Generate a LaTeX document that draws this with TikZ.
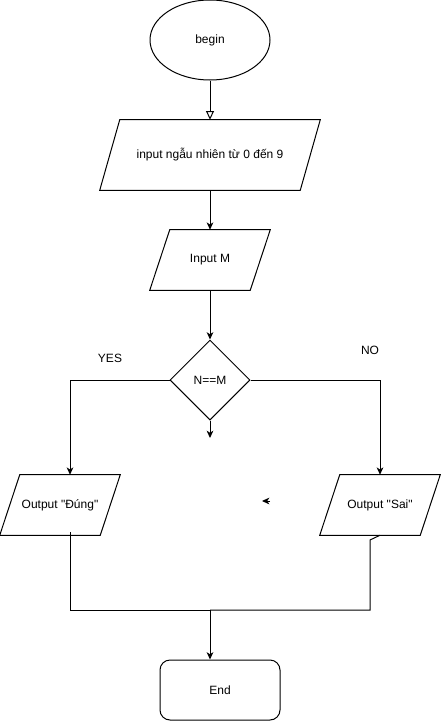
\documentclass[tikz,border=0pt]{standalone}
\usepackage{fontspec}
% plain family: no TeX ligature mapping, so " stays a straight quote
\newfontfamily\diafont{Liberation Sans}
\usetikzlibrary{shapes.geometric,arrows.meta,calc}

% parallelogram outline on a node's bounding box: top edge shifted right by #2
\newcommand\parashape[2]{%
  \draw[line] ([xshift=#2]#1.north west) -- (#1.north east)
    -- ([xshift=-#2]#1.south east) -- (#1.south west) -- cycle;}

\begin{document}
\begin{tikzpicture}[x=0.75pt,y=-0.75pt,
  font=\diafont\fontsize{9pt}{11pt}\selectfont,
  line/.style={draw=black,line width=0.75pt},
  arrow/.style={line,-{Stealth[length=5.5pt,width=5pt,inset=1.6pt]}},
  openarrow/.style={line,-{Triangle[open,length=6.5pt,width=6pt]}},
  term/.style={ellipse,draw=black,line width=0.75pt,inner sep=0pt,
    minimum width=90pt,minimum height=60pt},
  iobox/.style={inner sep=0pt,minimum height=#1},
  decision/.style={diamond,draw=black,line width=0.75pt,inner sep=0pt,
    minimum width=60pt,minimum height=60pt},
  endbox/.style={rectangle,rounded corners=7.5pt,draw=black,line width=0.75pt,
    inner sep=0pt,minimum width=90pt,minimum height=45pt},
  lbl/.style={inner sep=0pt}]

\useasboundingbox (0,0) rectangle (441,721);

% nodes
\node[term] (begin) at (210,40) {begin};
\node[iobox=52.5pt,minimum width=165pt] (rand) at (210,155) {input ngẫu nhiên từ 0 đến 9};
\parashape{rand}{15pt}
\node[iobox=45pt,minimum width=90pt] (inM) at (210,260) {Input M};
\parashape{inM}{15pt}
\node[decision] (cmp) at (210,380) {N==M};
\node[iobox=45pt,minimum width=90pt] (outY) at (60,505) {Output "Đúng"};
\parashape{outY}{15pt}
\node[iobox=45pt,minimum width=90pt] (outN) at (380,505) {Output "Sai"};
\parashape{outN}{15pt}
\node[endbox] (fin) at (220,690) {End};

% branch labels
\node[lbl] (yes) at (110,358) {YES};
\node[lbl] (no) at (370,350) {NO};

% helper points
\coordinate (loose) at (210,438);
\coordinate (tipA) at (270,501);
\coordinate (tipB) at (262,501);
\coordinate (ystart) at (70,532);
\coordinate (sbend) at (370,540);
\coordinate (join) at (210,610);

% connectors
\draw[openarrow] (begin) -- (rand);
\draw[arrow] (rand) -- (inM);
\draw[arrow] (inM) -- (cmp);
\draw[arrow] (cmp.south) -- (loose);
\draw[arrow] (cmp.west) -| ([xshift=7.5pt]outY.north);
\draw[arrow] (cmp.east) -| (outN.north);
\draw[arrow] (tipA) -- (tipB);
\draw[line] (ystart) |- (join);
\draw[line] (outN.south) -- (sbend) |- (join);
\draw[arrow] (join) -- (join |- fin.north);

\end{tikzpicture}
\end{document}
